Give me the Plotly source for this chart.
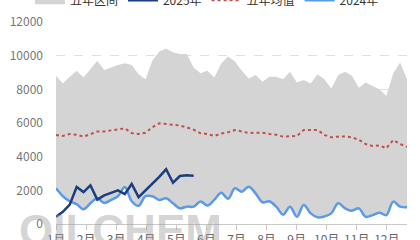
import plotly.graph_objects as go

months = ["1月", "2月", "3月", "4月", "5月", "6月", "7月", "8月", "9月", "10月", "11月", "12月"]

weeks = list(range(52))

range_max = [8800, 8350, 8750, 9100, 8700, 9200, 9700, 9150, 9300, 9450,
             9550, 9450, 8900, 8600, 9700, 10250, 10430, 10200, 10100, 10100,
             9300, 8950, 9100, 8700, 9540, 9950, 9650, 9100, 8650, 8850,
             8450, 8750, 8750, 8600, 9050, 8400, 8550, 8350, 8900, 8600,
             8050, 8850, 9050, 8800, 8100, 8400, 8200, 8000, 7600, 8950,
             9600, 8600]

s2024 = [2120, 1650, 1350, 1180, 880, 1230, 1530, 1250, 1430, 1650,
         2200, 1350, 1080, 1650, 1650, 1430, 1530, 1230, 930, 1030,
         1030, 1330, 1100, 1430, 1850, 1500, 2120, 1920, 2220, 1820,
         1290, 1350, 1030, 550, 1030, 430, 1130, 630, 400, 450,
         630, 1230, 930, 790, 930, 430, 530, 670, 530, 1330,
         1030, 990]

range_min = list(s2024)

mean5 = [5290, 5230, 5350, 5300, 5190, 5350, 5490, 5500, 5550, 5600,
         5680, 5400, 5350, 5420, 5750, 5980, 5950, 5880, 5850, 5740,
         5600, 5390, 5350, 5230, 5380, 5450, 5580, 5500, 5400, 5420,
         5420, 5350, 5300, 5190, 5200, 5230, 5580, 5580, 5580, 5290,
         5150, 5190, 5200, 5150, 5000, 4750, 4630, 4670, 4500, 4990,
         4750, 4590]

s2025 = [430, 720, 1150, 2200, 1900, 2300, 1450, 1700, 1850, 2000,
         1780, 2380, 1600, 2000, 2350, 2800, 3250, 2450, 2850, 2900,
         2870]

fig = go.Figure()

fig.add_trace(go.Scatter(x=weeks, y=range_min, mode="lines",
                         line=dict(width=0, shape="spline"),
                         showlegend=False, hoverinfo="skip"))
fig.add_trace(go.Scatter(x=weeks, y=range_max, mode="lines", name="五年区间",
                         line=dict(width=0), fill="tonexty",
                         fillcolor="#d4d4d4", legendrank=1))
fig.add_trace(go.Scatter(x=weeks, y=mean5, mode="lines", name="五年均值",
                         line=dict(color="#c0504d", width=2, dash="dot"),
                         legendrank=3))
fig.add_trace(go.Scatter(x=weeks, y=s2024, mode="lines", name="2024年",
                         line=dict(color="#5b9ae8", width=2.5, shape="spline"),
                         legendrank=4))
fig.add_trace(go.Scatter(x=weeks[:len(s2025)], y=s2025, mode="lines", name="2025年",
                         line=dict(color="#1a3f80", width=2.5),
                         legendrank=2))

step = 4.37
fig.update_xaxes(range=[0, 51], tickmode="array",
                 tickvals=[i * step for i in range(12)], ticktext=months,
                 showgrid=False, showline=True, linecolor="#c8c8c8", linewidth=1,
                 ticks="outside", ticklen=5, tickcolor="#c8c8c8",
                 tickfont=dict(size=12, color="#666666"), zeroline=False)
fig.update_yaxes(range=[0, 12000], dtick=2000, tickformat="d", showgrid=True,
                 gridcolor="#e0e0e0", griddash="dash", gridwidth=1,
                 zeroline=False, showline=False, ticks="",
                 tickfont=dict(size=12, color="#777777"), ticklabelstandoff=12)

fig.add_annotation(text="<b>OILCHEM</b>", xref="paper", yref="paper",
                   x=-0.11, y=-0.03, xanchor="left", yanchor="middle",
                   showarrow=False,
                   font=dict(size=44, color="rgba(160,160,160,0.45)",
                             family="Arial, Liberation Sans"))

fig.update_layout(
    width=420, height=240,
    margin=dict(l=56, r=13, t=22, b=16, autoexpand=False),
    paper_bgcolor="white", plot_bgcolor="white",
    font=dict(family="Noto Sans CJK SC, Microsoft YaHei, sans-serif", size=12, color="#333333"),
    legend=dict(orientation="h", x=0.43, xanchor="center", y=1.108, yanchor="middle",
                traceorder="normal",
                font=dict(size=12, color="#333333"), itemwidth=30,
                bgcolor="rgba(0,0,0,0)"),
    showlegend=True,
)

fig.write_html("out.html")
